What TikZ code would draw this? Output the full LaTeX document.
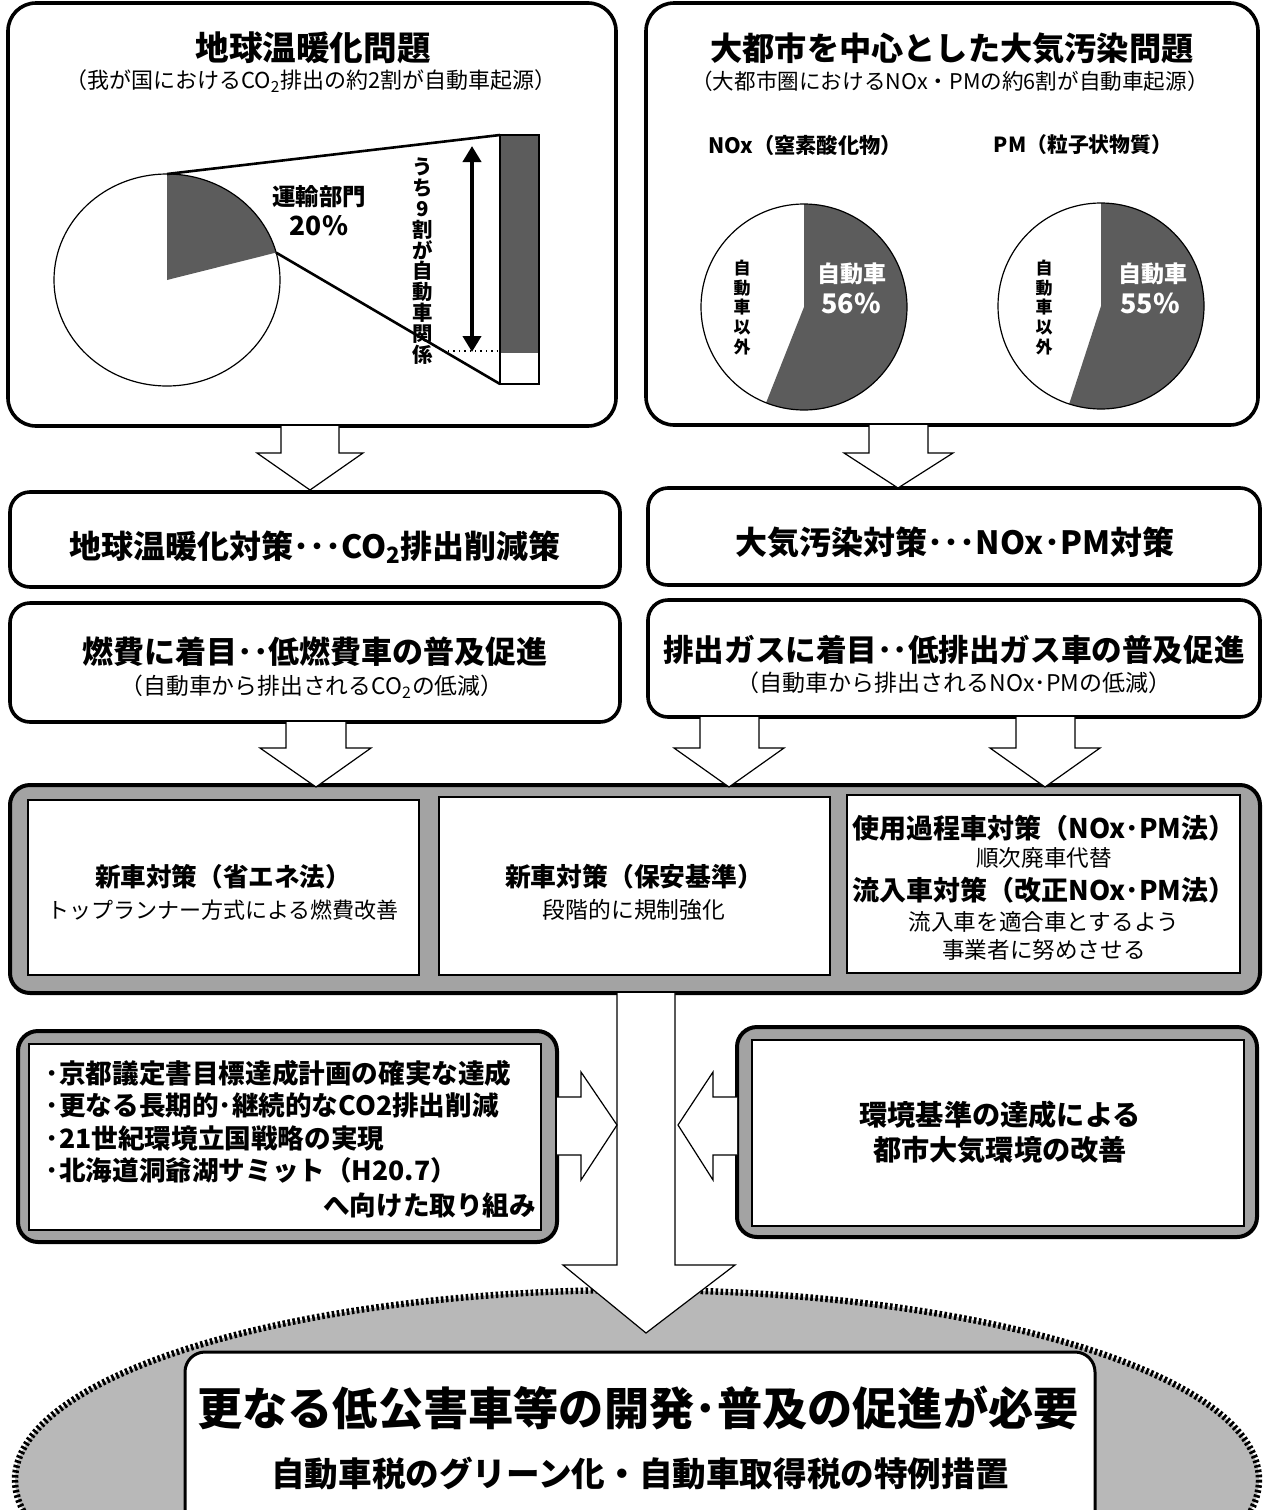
\documentclass[tikz,border=0pt]{standalone}
\usepackage{fontspec}
\setmainfont{Noto Sans CJK JP}
\usetikzlibrary{arrows.meta,fit,calc}
\newcommand\jfs[1]{\fontsize{#1}{#1}\selectfont}
\definecolor{piedark}{gray}{0.36}
\definecolor{band}{gray}{0.64}
\definecolor{ellfill}{gray}{0.72}
\begin{document}
\begin{tikzpicture}[x=0.5pt,y=-0.5pt,
  every node/.style={inner sep=0pt, outer sep=0pt},
  frame/.style={draw, line width=1.8pt, rounded corners=14pt, fill=white},
  midframe/.style={draw, line width=1.8pt, rounded corners=10pt, fill=white},
  bandframe/.style={draw, line width=2pt, rounded corners=10pt, fill=band},
  inbox/.style={draw, line width=1.1pt, fill=white},
  barrow/.style={draw, line width=0.6pt, fill=white, line join=miter},
  title/.style={font=\bfseries\jfs{16.5}},
  sub/.style={font=\jfs{11}},
]
\useasboundingbox (0,0) rectangle (1263,1510);

% ---------- top boxes ----------
\node[frame, fit={(8,3) (616,426)}] (tl) {};
\node[frame, fit={(646,3) (1258,425)}] (tr) {};

\node[title, font=\bfseries\jfs{16.8}] (tlt) at (313,48) {地球温暖化問題};
\node[sub] (tls) at (311,81) {（我が国におけるCO\textsubscript{2}排出の約2割が自動車起源）};
\node[title, font=\bfseries\jfs{16.1}] (trt) at (952,48) {大都市を中心とした大気汚染問題};
\node[sub, font=\jfs{10.8}] (trs) at (950,81) {（大都市圏におけるNOx・PMの約6割が自動車起源）};

% left pie
\fill[piedark] (167,280) -- (167,174) arc[start angle=-90, end angle=-15, x radius=113, y radius=106] -- cycle;
\draw[line width=0.6pt] (167,280) ellipse[x radius=113, y radius=106];
\coordinate (ptop) at (167,174);
\coordinate (pedge) at (276.1,252.6);
\fill[piedark] (500,135) rectangle (539,353);
\node[draw, line width=0.6pt, fit={(500,135) (539,384)}] (bar) {};
\coordinate (bartop) at (500,135);
\coordinate (barbot) at (500,384);
\draw[line width=1.3pt] (ptop) -- (bartop);
\draw[line width=1.3pt] (pedge) -- (barbot);
\coordinate (dl1) at (448,351);
\coordinate (dl2) at (500,351);
\draw[dotted, line width=0.7pt] (dl1) -- (dl2);
\coordinate (da1) at (472,146);
\coordinate (da2) at (472,352);
\draw[line width=2pt, {Triangle[width=9pt,length=8pt]}-{Triangle[width=9pt,length=8pt]}] (da1) -- (da2);
\node[font=\bfseries\jfs{11.7}] (yu) at (319,197) {運輸部門};
\node[font=\bfseries\jfs{13.2}] (yup) at (319,226) {20\%};
\node[align=center, font=\bfseries\fontsize{10.2}{10.4}\selectfont] (vt) at (423,261) {う\\ち\\9\\割\\が\\自\\動\\車\\関\\係};

% right pies
\node[font=\bfseries\jfs{10.6}] (noxh) at (805,145) {NOx（窒素酸化物）};
\node[font=\bfseries\jfs{10.4}] (pmh) at (1083,145) {PM（粒子状物質）};
\fill[piedark] (804,307) -- (804,204) arc[start angle=-90, end angle=111.6, radius=103] -- cycle;
\draw[line width=0.6pt] (804,307) circle[radius=103];
\fill[piedark] (1101,306) -- (1101,203) arc[start angle=-90, end angle=108, radius=103] -- cycle;
\draw[line width=0.6pt] (1101,306) circle[radius=103];
\node[font=\bfseries\jfs{11.5}, text=white] (nc) at (852,274) {自動車};
\node[font=\bfseries\jfs{13.5}, text=white] (ncp) at (851,303) {56\%};
\node[font=\bfseries\jfs{11.5}, text=white] (pc) at (1153,274) {自動車};
\node[font=\bfseries\jfs{13.5}, text=white] (pcp) at (1150,303) {55\%};
\node[align=center, font=\bfseries\fontsize{8.5}{9.85}\selectfont] (nx) at (742,307.5) {自\\動\\車\\以\\外};
\node[align=center, font=\bfseries\fontsize{8.5}{9.85}\selectfont] (px) at (1044,307.5) {自\\動\\車\\以\\外};

% ---------- row 2 ----------
\node[midframe, fit={(10,492) (620,587)}] (r2l) {};
\node[midframe, fit={(648,488) (1260,585)}] (r2r) {};
\node[font=\bfseries\jfs{16}] (r2lt) at (315,547) {地球温暖化対策･･･CO\textsubscript{2}排出削減策};
\node[font=\bfseries\jfs{16}] (r2rt) at (955,543) {大気汚染対策･･･NOx･PM対策};

% ---------- row 3 ----------
\node[midframe, fit={(10,603) (620,722)}] (r3l) {};
\node[midframe, fit={(648,600) (1260,717)}] (r3r) {};
\node[font=\bfseries\jfs{15.5}] (r3lt) at (315,652) {燃費に着目･･低燃費車の普及促進};
\node[font=\jfs{11.4}] (r3ls) at (312,687) {（自動車から排出されるCO\textsubscript{2}の低減）};
\node[font=\bfseries\jfs{15.3}] (r3rt) at (954,650) {排出ガスに着目･･低排出ガス車の普及促進};
\node[font=\jfs{11.5}] (r3rs) at (954,683) {（自動車から排出されるNOx･PMの低減）};

% ---------- row 4 ----------
\node[bandframe, fit={(10,785) (1260,993)}] (cont) {};
\node[inbox, fit={(28,800) (419,975)}] (ba) {};
\node[inbox, fit={(439,797) (830,975)}] (bb) {};
\node[inbox, fit={(847,795) (1240,973)}] (bc) {};
\node[font=\bfseries\jfs{12.8}] (ba1) at (223,877) {新車対策（省エネ法）};
\node[font=\jfs{11}] (ba2) at (223,910) {トップランナー方式による燃費改善};
\node[font=\bfseries\jfs{12.9}] (bb1) at (634,877) {新車対策（保安基準）};
\node[font=\jfs{11.4}] (bb2) at (634,910) {段階的に規制強化};
\node[font=\bfseries\jfs{13.5}] (bc1) at (1044,828) {使用過程車対策（NOx･PM法）};
\node[font=\jfs{11.3}] (bc2) at (1044,858) {順次廃車代替};
\node[font=\bfseries\jfs{13.5}] (bc3) at (1044,890) {流入車対策（改正NOx･PM法）};
\node[font=\jfs{11.3}] (bc4) at (1044,922) {流入車を適合車とするよう};
\node[font=\jfs{11.3}] (bc5) at (1044,950) {事業者に努めさせる};

% ---------- bottom side boxes ----------
\node[bandframe, fit={(18,1031) (557,1242)}] (bl) {};
\node[inbox, fit={(29,1044) (541,1230)}] (bli) {};
\node[bandframe, fit={(737,1027) (1257,1237)}] (br) {};
\node[inbox, fit={(752,1040) (1244,1226)}] (bri) {};
\node[font=\bfseries\jfs{13.3}, anchor=west] (bl1) at (46,1073) {･京都議定書目標達成計画の確実な達成};
\node[font=\bfseries\jfs{13.3}, anchor=west] (bl2) at (46,1105) {･更なる長期的･継続的なCO2排出削減};
\node[font=\bfseries\jfs{13.3}, anchor=west] (bl3) at (46,1138) {･21世紀環境立国戦略の実現};
\node[font=\bfseries\jfs{13.3}, anchor=west] (bl4) at (46,1170) {･北海道洞爺湖サミット（H20.7）};
\node[font=\bfseries\jfs{13.3}, anchor=east] (bl5) at (536,1205) {へ向けた取り組み};
\node[font=\bfseries\jfs{14.1}] (br1) at (1000,1115) {環境基準の達成による};
\node[font=\bfseries\jfs{14.1}] (br2) at (1000,1150) {都市大気環境の改善};

% ---------- bottom ellipse ----------
\begin{scope}
\clip (0,0) rectangle (1263,1510);
\fill[ellfill] (637,1480) ellipse[x radius=622, y radius=190];
\draw[line width=3.2pt, dash pattern=on 1.3pt off 1.2pt] (637,1480) ellipse[x radius=622, y radius=190];
\node[frame, line width=1.5pt, rounded corners=10pt, fit={(185,1352) (1095,1560)}] (goal) {};
\end{scope}
\node[font=\bfseries\jfs{22.6}] (g1) at (638,1408) {更なる低公害車等の開発･普及の促進が必要};
\node[font=\bfseries\jfs{16.8}] (g2) at (640,1473) {自動車税のグリーン化・自動車取得税の特例措置};

% ---------- block arrows ----------
\filldraw[barrow] (281,426) -- (281,453) -- (257,453) -- (310,490) -- (363,453) -- (339,453) -- (339,426);
\filldraw[barrow] (869,425) -- (869,453) -- (844,453) -- (898,488) -- (953,453) -- (928,453) -- (928,425);
\filldraw[barrow] (286,722) -- (286,748) -- (260,748) -- (316,787) -- (371,748) -- (346,748) -- (346,722);
\filldraw[barrow] (700,717) -- (700,748) -- (674,748) -- (729,787) -- (784,748) -- (759,748) -- (759,717);
\filldraw[barrow] (1016,717) -- (1016,748) -- (990,748) -- (1045,787) -- (1100,748) -- (1075,748) -- (1075,717);
\filldraw[barrow] (617,993) -- (617,1265) -- (563,1265) -- (646,1333) -- (735,1265) -- (675,1265) -- (675,993);
\filldraw[barrow] (557,1097) -- (581,1097) -- (581,1072) -- (617,1125) -- (581,1180) -- (581,1155) -- (557,1155);
\filldraw[barrow] (737,1097) -- (713,1097) -- (713,1072) -- (678,1125) -- (713,1180) -- (713,1155) -- (737,1155);
\end{tikzpicture}
\end{document}
